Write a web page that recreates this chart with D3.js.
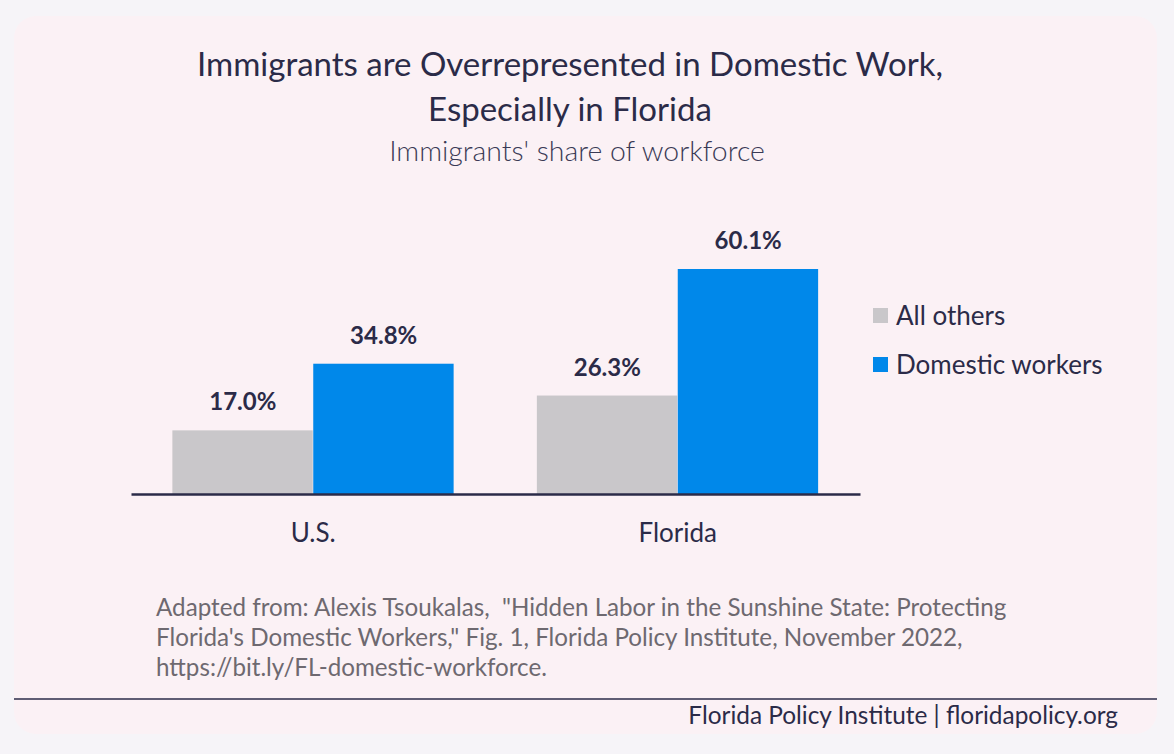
<!DOCTYPE html>
<html>
<head>
<meta charset="utf-8">
<script src="https://cdn.jsdelivr.net/npm/d3@7"></script>
<style>
  body { margin: 0; background: #f6f4f8; }
  svg { display: block; font-family: Lato, "Open Sans", sans-serif; }
</style>
</head>
<body>
<div class="chart"></div>
<script>
var svgWidth = 1174;
var svgHeight = 754;

var categories = ["U.S.", "Florida"];
var seriesNames = ["All others", "Domestic workers"];
var allOthers = [17.0, 26.3];
var domesticWorkers = [34.8, 60.1];
var seriesColors = ["#c9c7ca", "#0088ea"];

var titleLines = ["Immigrants are Overrepresented in Domestic Work,", "Especially in Florida"];
var subtitle = "Immigrants' share of workforce";
var sourceLines = [
  "Adapted from: Alexis Tsoukalas,  \"Hidden Labor in the Sunshine State: Protecting",
  "Florida's Domestic Workers,\" Fig. 1, Florida Policy Institute, November 2022,",
  "https://bit.ly/FL-domestic-workforce."
];
var footer = "Florida Policy Institute | floridapolicy.org";

var dark = "#2b2b48";

var svg = d3.select(".chart")
  .append("svg")
  .attr("width", svgWidth)
  .attr("height", svgHeight);

// card background
svg.append("rect")
  .attr("x", 14).attr("y", 16)
  .attr("width", 1143).attr("height", 718)
  .attr("rx", 22)
  .attr("fill", "#fbf1f5");

// title + subtitle
svg.selectAll(".title")
  .data(titleLines)
  .enter().append("text")
  .attr("class", "title")
  .attr("x", 570)
  .attr("y", (d, i) => 76 + i * 45)
  .attr("text-anchor", "middle")
  .attr("font-size", 33)
  .attr("fill", dark)
  .text(d => d);

svg.append("text")
  .attr("x", 577)
  .attr("y", 161)
  .attr("text-anchor", "middle")
  .attr("font-size", 28.4)
  .attr("font-weight", 300)
  .attr("fill", "#3a3a55")
  .text(subtitle);

// scales
var x0 = d3.scaleBand()
  .domain(categories)
  .range([131, 860])
  .paddingInner(0.227)
  .paddingOuter(0.1135);

var x1 = d3.scaleBand()
  .domain(seriesNames)
  .range([0, x0.bandwidth()]);

var y = d3.scaleLinear()
  .domain([0, 60.1])
  .range([494, 269]);

var rows = categories.map((c, i) => ({
  cat: c,
  vals: [
    { key: seriesNames[0], value: allOthers[i], color: seriesColors[0] },
    { key: seriesNames[1], value: domesticWorkers[i], color: seriesColors[1] }
  ]
}));

var groups = svg.selectAll(".grp")
  .data(rows)
  .enter().append("g")
  .attr("class", "grp")
  .attr("transform", d => `translate(${x0(d.cat)},0)`);

groups.selectAll("rect")
  .data(d => d.vals)
  .enter().append("rect")
  .attr("x", d => x1(d.key))
  .attr("y", d => y(d.value))
  .attr("width", x1.bandwidth() - 0.5)
  .attr("height", d => y(0) - y(d.value))
  .attr("fill", d => d.color);

groups.selectAll(".val")
  .data(d => d.vals)
  .enter().append("text")
  .attr("class", "val")
  .attr("x", d => x1(d.key) + x1.bandwidth() / 2)
  .attr("y", d => y(d.value) - 20)
  .attr("text-anchor", "middle")
  .attr("font-size", 24)
  .attr("font-weight", 700)
  .attr("fill", dark)
  .text(d => d.value.toFixed(1) + "%");

// x axis
var xAxis = svg.append("g")
  .attr("transform", `translate(0,${y(0)})`)
  .call(d3.axisBottom(x0).tickSize(0).tickPadding(30));
xAxis.select(".domain").attr("stroke", dark).attr("stroke-width", 2.5);
xAxis.selectAll("text")
  .attr("font-size", 26)
  .attr("font-family", "Lato, sans-serif")
  .attr("fill", dark);

// legend
var legend = svg.selectAll(".leg")
  .data(seriesNames)
  .enter().append("g")
  .attr("class", "leg")
  .attr("transform", (d, i) => `translate(873,${308 + i * 49})`);
legend.append("rect")
  .attr("width", 15).attr("height", 15)
  .attr("fill", (d, i) => seriesColors[i]);
legend.append("text")
  .attr("x", 23).attr("y", 17)
  .attr("font-size", 26)
  .attr("fill", dark)
  .text(d => d);

// source note
svg.selectAll(".src")
  .data(sourceLines)
  .enter().append("text")
  .attr("class", "src")
  .attr("x", 156)
  .attr("y", (d, i) => 616 + i * 30)
  .attr("font-size", 24.2)
  .attr("fill", "#6e6970")
  .style("white-space", "pre")
  .text(d => d);

// footer
svg.append("line")
  .attr("x1", 14).attr("x2", 1157)
  .attr("y1", 699).attr("y2", 699)
  .attr("stroke", dark).attr("stroke-width", 1.5);

svg.append("text")
  .attr("x", 1118)
  .attr("y", 724)
  .attr("text-anchor", "end")
  .attr("font-size", 24.4)
  .attr("fill", dark)
  .text(footer);
</script>
</body>
</html>
